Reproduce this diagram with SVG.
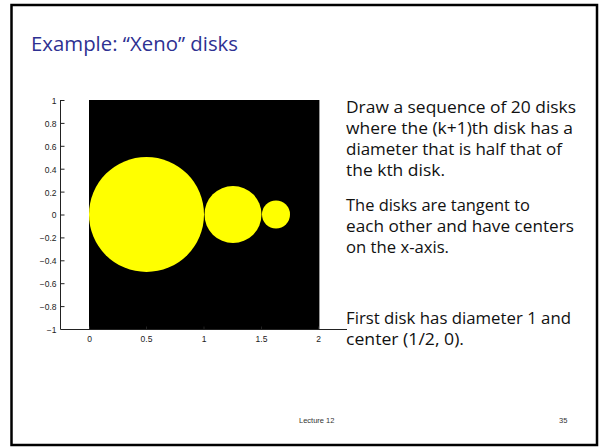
<svg xmlns="http://www.w3.org/2000/svg" width="600" height="447" viewBox="0 0 600 447">
<style>
.tick{font-family:"Liberation Sans",Arial,sans-serif;font-size:8.5px;fill:#222}
.body{font-family:"Open Sans","Liberation Sans",sans-serif;font-size:15.5px;fill:#111}
.foot{font-family:"Liberation Sans",Arial,sans-serif;font-size:7.5px;fill:#333}
.ax{stroke:#222;stroke-width:1;fill:none}
.disk{fill:#ffff00}
</style>
<rect x="0" y="0" width="600" height="447" fill="#ffffff"/>
<rect id="frame" x="11.5" y="5" width="585.5" height="440" fill="none" stroke="#000" stroke-width="2.5"/>
<text id="title" x="31" y="51" font-family="'Gill Sans','Open Sans','Liberation Sans',sans-serif" font-size="20.5" fill="#2e3192" textLength="207" lengthAdjust="spacingAndGlyphs">Example: “Xeno” disks</text>
<g id="plot">
<rect x="89" y="100" width="230" height="229" fill="#000"/>
<line x1="319.5" y1="100" x2="319.5" y2="329" stroke="#999" stroke-width="1"/>
<circle id="disk1" class="disk" cx="146.5" cy="214.5" r="57.5"/>
<circle id="disk2" class="disk" cx="233" cy="214.5" r="28.5"/>
<circle id="disk3" class="disk" cx="276" cy="214.5" r="14"/>
</g>
<g id="axes">
<path class="ax" d="M60.5,100 V329.5 H347"/>
<path class="ax" d="M60.5,100.5h4M60.5,123.4h4M60.5,146.3h4M60.5,169.2h4M60.5,192.1h4M60.5,215h4M60.5,237.9h4M60.5,260.8h4M60.5,283.7h4M60.5,306.6h4"/>
<path class="ax" d="M89.5,329.5v-3M146.5,329.5v-3M204,329.5v-3M261.5,329.5v-3M318.5,329.5v-3"/>
<g class="tick" text-anchor="end">
<text x="56.5" y="103.5">1</text>
<text x="56.5" y="126.5">0.8</text>
<text x="56.5" y="149.5">0.6</text>
<text x="56.5" y="172.5">0.4</text>
<text x="56.5" y="195.5">0.2</text>
<text x="56.5" y="218">0</text>
<text x="56.5" y="241">−0.2</text>
<text x="56.5" y="264">−0.4</text>
<text x="56.5" y="287">−0.6</text>
<text x="56.5" y="310">−0.8</text>
<text x="56.5" y="333">−1</text>
</g>
<g class="tick" text-anchor="middle">
<text x="89.5" y="342">0</text>
<text x="146.5" y="342">0.5</text>
<text x="204" y="342">1</text>
<text x="261.5" y="342">1.5</text>
<text x="318.5" y="342">2</text>
</g>
</g>
<g id="description" class="body">
<text x="346" y="112.5" textLength="230" lengthAdjust="spacingAndGlyphs">Draw a sequence of 20 disks</text>
<text x="346" y="133.5" textLength="227" lengthAdjust="spacingAndGlyphs">where the (k+1)th disk has a</text>
<text x="346" y="154.5" textLength="216" lengthAdjust="spacingAndGlyphs">diameter that is half that of</text>
<text x="346" y="175.5" textLength="99" lengthAdjust="spacingAndGlyphs">the kth disk.</text>
<text x="346" y="211" textLength="184" lengthAdjust="spacingAndGlyphs">The disks are tangent to</text>
<text x="346" y="232" textLength="228" lengthAdjust="spacingAndGlyphs">each other and have centers</text>
<text x="346" y="253" textLength="103" lengthAdjust="spacingAndGlyphs">on the x-axis.</text>
<text x="346" y="324" textLength="225" lengthAdjust="spacingAndGlyphs">First disk has diameter 1 and</text>
<text x="346" y="345" textLength="118" lengthAdjust="spacingAndGlyphs">center (1/2, 0).</text>
</g>
<g id="footer" class="foot">
<text x="299" y="423">Lecture 12</text>
<text x="559" y="423">35</text>
</g>
</svg>
